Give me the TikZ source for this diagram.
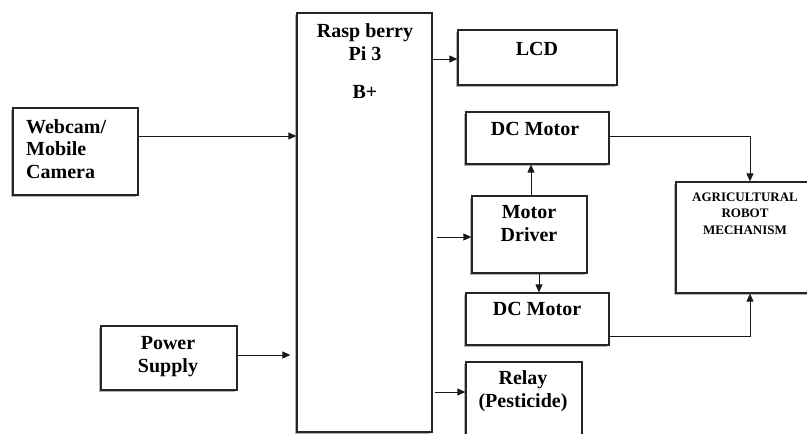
\documentclass[tikz,border=0pt]{standalone}
\usepackage{fontspec}
\setmainfont{Liberation Serif}
\usetikzlibrary{arrows.meta,calc,shadows}
\begin{document}
\begin{tikzpicture}[x=1pt,y=-1pt,
  box/.style={draw=black!85,line width=1.3pt,fill=white,rectangle,inner sep=0pt,
    drop shadow={shadow xshift=-1.8pt,shadow yshift=-1.8pt,fill=black,opacity=0.3}},
  lbl/.style={font=\bfseries\fontsize{20}{22.5}\selectfont,align=center,anchor=base,inner sep=0pt},
  arr/.style={draw=black!90,line width=0.9pt,-{Triangle[length=8pt,width=7pt]}},
  ln/.style={draw=black!90,line width=0.9pt}]
\useasboundingbox[fill=white] (0,0) rectangle (807,434);
% boxes
\node[box,minimum width=135pt,minimum height=419pt] (rpi) at (364.5,222.5) {};
\node[box,minimum width=125pt,minimum height=87pt] (cam) at (75.5,151.5) {};
\node[box,minimum width=136pt,minimum height=64pt] (pwr) at (169,358) {};
\node[box,minimum width=159pt,minimum height=55pt] (lcd) at (537.5,57.5) {};
\node[box,minimum width=143pt,minimum height=52pt] (dc1) at (537.5,138) {};
\node[box,minimum width=115pt,minimum height=77pt] (drv) at (529.5,234.5) {};
\node[box,minimum width=143pt,minimum height=52pt] (dc2) at (537.5,319) {};
\node[box,minimum width=116pt,minimum height=80pt] (rly) at (524,402) {};
\node[box,minimum width=136pt,minimum height=111pt] (agr) at (744,237.5) {};
% texts (multi-line nodes are anchored at the baseline of their last line)
\node[lbl] (trpi) at (365,60) {Rasp berry\\Pi 3};
\node[lbl] (tbp) at (365,98) {B+};
\node[lbl,align=left,anchor=base west] (tcam) at (26,178) {Webcam/\\Mobile\\Camera};
\node[lbl] (tpwr) at (168,372) {Power\\Supply};
\node[lbl] (tlcd) at (537,55) {LCD};
\node[lbl] (tdc1) at (535,135) {DC Motor};
\node[lbl] (tdrv) at (529,241) {Motor\\Driver};
\node[lbl] (tdc2) at (537,315) {DC Motor};
\node[lbl] (trly) at (523,407) {Relay\\(Pesticide)};
\node[lbl,font=\bfseries\fontsize{13}{16.5}\selectfont] (tagr) at (745,234) {AGRICULTURAL\\ROBOT\\MECHANISM};
% connectors
\draw[arr] ($(cam.east)+(0,15.5pt)$) -- ($(cam.east -| rpi.west)+(0,15.5pt)$);
\draw[arr] ($(pwr.east)+(0,3pt)$) -- ($(pwr.east -| rpi.west)+(-6pt,3pt)$);
\draw[arr] ($(lcd.west -| rpi.east)+(0,-1.5pt)$) -- ($(lcd.west)+(0,-1.5pt)$);
\draw[arr] ($(drv.west -| rpi.east)+(4pt,-2.5pt)$) -- ($(drv.west)+(0,-2.5pt)$);
\draw[arr] ($(rly.west -| rpi.east)+(2pt,10pt)$) -- ($(rly.west)+(0,10pt)$);
\draw[arr] ($(drv.north)+(1.5pt,0)$) -- ($(drv.north |- dc1.south)+(1.5pt,0)$);
\draw[arr] ($(drv.south)+(9.5pt,0)$) -- ($(drv.south |- dc2.north)+(9.5pt,0)$);
\draw[arr] ($(dc1.east)+(0,2pt)$) -| ($(agr.north)+(6pt,0)$);
\draw[arr] ($(dc2.east)+(0,-17pt)$) -| ($(agr.south)+(6pt,0)$);
\end{tikzpicture}
\end{document}
